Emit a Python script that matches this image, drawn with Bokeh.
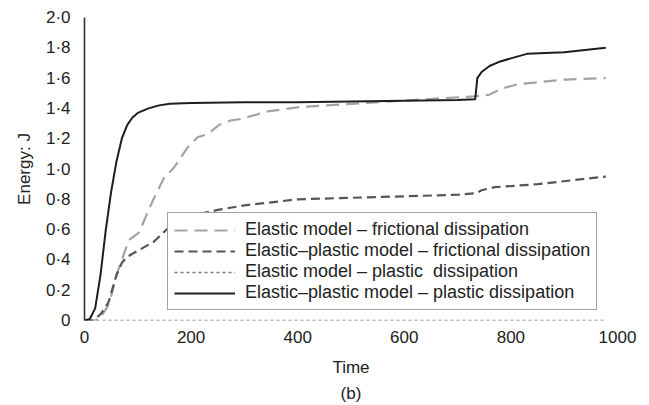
from bokeh.plotting import figure
from bokeh.models import Range1d, FixedTicker, Legend, LegendItem, LinearAxis
from bokeh.embed import file_html
from bokeh.resources import INLINE

# ---- data ----
elastic_fric_x = [0, 20, 30, 43, 50, 60, 71, 83, 102, 128, 149, 168, 193, 212, 231, 252, 274, 293, 344, 406, 500, 594, 731, 759, 782, 814, 844, 900, 978]
elastic_fric_y = [0, 0, 0.02, 0.09, 0.16, 0.30, 0.41, 0.53, 0.58, 0.79, 0.94, 1.01, 1.14, 1.21, 1.23, 1.29, 1.32, 1.33, 1.38, 1.41, 1.43, 1.45, 1.48, 1.49, 1.53, 1.56, 1.57, 1.59, 1.60]

ep_fric_x = [0, 15, 30, 45, 60, 70, 80, 100, 130, 160, 200, 250, 300, 400, 500, 600, 700, 735, 745, 770, 850, 978]
ep_fric_y = [0, 0, 0.04, 0.12, 0.30, 0.38, 0.42, 0.46, 0.52, 0.62, 0.69, 0.73, 0.76, 0.80, 0.81, 0.82, 0.83, 0.84, 0.86, 0.88, 0.90, 0.95]

elastic_plast_x = [0, 978]
elastic_plast_y = [0, 0]

ep_plast_x = [0, 10, 20, 30, 40, 50, 60, 70, 80, 90, 100, 120, 140, 160, 200, 300, 400, 500, 600, 700, 733, 737, 745, 760, 780, 800, 830, 900, 978]
ep_plast_y = [0, 0.01, 0.08, 0.30, 0.60, 0.85, 1.05, 1.20, 1.29, 1.34, 1.37, 1.40, 1.42, 1.43, 1.435, 1.44, 1.44, 1.445, 1.45, 1.455, 1.46, 1.60, 1.64, 1.68, 1.71, 1.73, 1.76, 1.77, 1.80]

labels = ["Elastic model – frictional dissipation",
          "Elastic–plastic model – frictional dissipation",
          "Elastic model – plastic  dissipation",
          "Elastic–plastic model – plastic dissipation"]

x_ticks = [0, 200, 400, 600, 800, 1000]
y_ticks = [0, 0.2, 0.4, 0.6, 0.8, 1.0, 1.2, 1.4, 1.6, 1.8, 2.0]
y_tick_labels = ["0", "0·2", "0·4", "0·6", "0·8", "1·0", "1·2", "1·4", "1·6", "1·8", "2·0"]
panel_label = "(b)"

FONT = "Liberation Sans"

p = figure(width=641, height=405, output_backend="svg", toolbar_location=None,
           x_range=Range1d(0, 1000), y_range=Range1d(0, 2.0),
           min_border_left=84, min_border_right=24, min_border_top=17, min_border_bottom=84)
p.outline_line_color = None
p.grid.grid_line_color = None
p.background_fill_color = "white"

r1 = p.line(elastic_fric_x, elastic_fric_y, line_color="#a3a3a3", line_width=2.2, line_dash="13 7")
r2 = p.line(ep_fric_x, ep_fric_y, line_color="#555555", line_width=2.2, line_dash="9 5")
r3 = p.line(elastic_plast_x, elastic_plast_y, line_color="#777777", line_width=1.6, line_dash="3 3")
r4 = p.line(ep_plast_x, ep_plast_y, line_color="#1e1e1e", line_width=2.0)

# axes
p.xaxis.ticker = FixedTicker(ticks=x_ticks)
p.yaxis.ticker = FixedTicker(ticks=y_ticks)
p.yaxis.major_label_overrides = {t: l for t, l in zip(y_ticks, y_tick_labels)}
for ax in (p.xaxis, p.yaxis):
    ax.major_tick_line_color = None
    ax.minor_tick_line_color = None
    ax.major_label_text_font = FONT
    ax.major_label_text_font_size = "17px"
    ax.major_label_text_color = "#222222"
    ax.axis_label_text_font = FONT
    ax.axis_label_text_font_size = "17px"
    ax.axis_label_text_font_style = "normal"
    ax.axis_label_text_color = "#222222"
p.xaxis.axis_line_color = None
p.yaxis.axis_line_color = "#333333"
p.yaxis.axis_line_width = 1.6
p.xaxis.axis_label = "Time"
p.yaxis.axis_label = "Energy: J"
p.xaxis.major_label_standoff = 4
p.xaxis.axis_label_standoff = 12
p.yaxis.major_label_standoff = 8
p.yaxis.axis_label_standoff = 9

# panel caption "(b)" as an extra, tick-less axis label below
cap = LinearAxis(ticker=FixedTicker(ticks=[]), axis_label=panel_label,
                 axis_line_color=None, major_tick_line_color=None, minor_tick_line_color=None,
                 major_label_standoff=0, major_label_text_font_size="0px",
                 axis_label_standoff=4,
                 axis_label_text_font=FONT, axis_label_text_font_size="17px",
                 axis_label_text_font_style="normal", axis_label_text_color="#222222")
p.add_layout(cap, "below")

legend = Legend(items=[LegendItem(label=labels[0], renderers=[r1]),
                       LegendItem(label=labels[1], renderers=[r2]),
                       LegendItem(label=labels[2], renderers=[r3]),
                       LegendItem(label=labels[3], renderers=[r4])],
                location=(83, 10))
legend.label_text_font = FONT
legend.label_text_font_size = "18px"
legend.label_text_color = "#222222"
legend.glyph_width = 61
legend.glyph_height = 20
legend.label_height = 20
legend.label_standoff = 10
legend.spacing = 0
legend.padding = 6
legend.margin = 0
legend.border_line_color = "#444444"
legend.border_line_width = 1.6
legend.background_fill_color = "white"
legend.background_fill_alpha = 1.0
p.add_layout(legend, "center")

open("out.html", "w").write(file_html(p, INLINE))
